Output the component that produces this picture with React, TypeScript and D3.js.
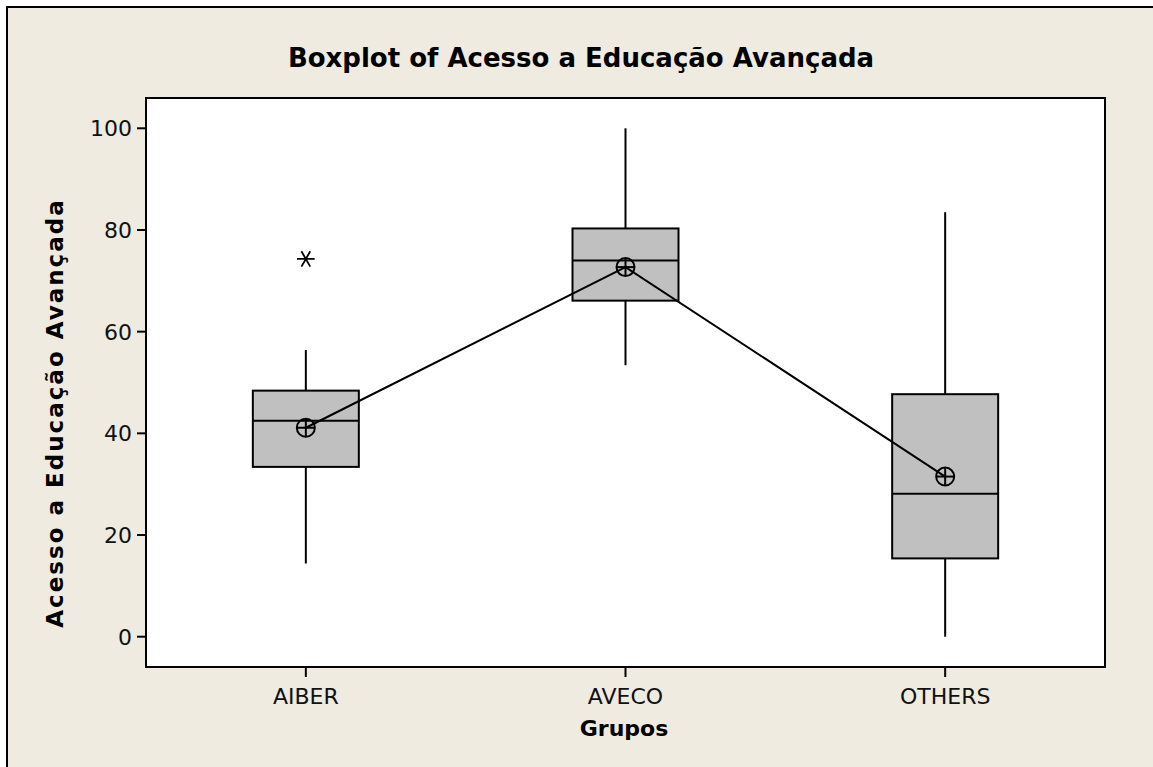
import React from "react";
import * as d3 from "d3";

const categories = ["AIBER", "AVECO", "OTHERS"];
const q1 = [33.4, 66.1, 15.4];
const medians = [42.5, 74.0, 28.1];
const q3 = [48.4, 80.3, 47.7];
const whiskerLow = [14.4, 53.4, 0];
const whiskerHigh = [56.4, 100, 83.5];
const means = [41.1, 72.7, 31.5];
const outlierGroups = ["AIBER"];
const outlierValues = [74.3];
const yTicks = [0, 20, 40, 60, 80, 100];

const W = 1153;
const H = 767;
const plot = { left: 146, top: 98, right: 1105, bottom: 667 };
const BG = "#EFEBE1";
const FONT = "'DejaVu Sans', Verdana, sans-serif";

export default function App() {
  const x = d3
    .scalePoint<string>()
    .domain(categories)
    .range([plot.left, plot.right])
    .padding(0.5);
  const y = d3.scaleLinear().domain([-5.96, 105.96]).range([plot.bottom, plot.top]);
  const boxHalf = 53;
  const meanLine = d3
    .line<number>()
    .x((_, i) => x(categories[i]) as number)
    .y((d) => y(d));
  const star = d3.symbol().type(d3.symbolAsterisk).size(220)();

  return (
    <svg
      width={W}
      height={H}
      style={{ position: "absolute", left: 0, top: 0, background: "#fff" }}
    >
      <rect x={7} y={7} width={W + 20} height={H + 20} fill={BG} stroke="#000" strokeWidth={2} />
      <rect
        x={plot.left}
        y={plot.top}
        width={plot.right - plot.left}
        height={plot.bottom - plot.top}
        fill="#fff"
        stroke="#000"
        strokeWidth={2}
      />
      <text
        x={581}
        y={67}
        textAnchor="middle"
        fontFamily={FONT}
        fontWeight="bold"
        fontSize={26}
        fill="#000"
      >
        Boxplot of Acesso a Educação Avançada
      </text>
      {/* y axis */}
      {yTicks.map((t) => (
        <g key={t}>
          <line x1={plot.left - 9} x2={plot.left} y1={y(t)} y2={y(t)} stroke="#000" strokeWidth={2} />
          <text
            x={plot.left - 14}
            y={y(t)}
            dy="0.36em"
            textAnchor="end"
            fontFamily={FONT}
            fontSize={22}
            fill="#111"
          >
            {t}
          </text>
        </g>
      ))}
      {/* x axis */}
      {categories.map((c) => (
        <g key={c}>
          <line x1={x(c)} x2={x(c)} y1={plot.bottom} y2={plot.bottom + 10} stroke="#000" strokeWidth={2} />
          <text
            x={x(c)}
            y={704}
            textAnchor="middle"
            fontFamily={FONT}
            fontSize={22}
            fill="#111"
          >
            {c}
          </text>
        </g>
      ))}
      <text
        x={624}
        y={736}
        textAnchor="middle"
        fontFamily={FONT}
        fontWeight="bold"
        fontSize={22}
        fill="#000"
      >
        Grupos
      </text>
      <text
        transform={`translate(63,413) rotate(-90)`}
        textAnchor="middle"
        fontFamily={FONT}
        fontWeight="bold"
        fontSize={23}
        letterSpacing={2}
        fill="#000"
      >
        Acesso a Educação Avançada
      </text>
      {/* boxes */}
      {categories.map((c, i) => {
        const cx = x(c) as number;
        return (
          <g key={c}>
            <line x1={cx} x2={cx} y1={y(whiskerHigh[i])} y2={y(q3[i])} stroke="#000" strokeWidth={2} />
            <line x1={cx} x2={cx} y1={y(q1[i])} y2={y(whiskerLow[i])} stroke="#000" strokeWidth={2} />
            <rect
              x={cx - boxHalf}
              y={y(q3[i])}
              width={boxHalf * 2}
              height={y(q1[i]) - y(q3[i])}
              fill="#C0C0C0"
              stroke="#000"
              strokeWidth={2}
            />
            <line
              x1={cx - boxHalf}
              x2={cx + boxHalf}
              y1={y(medians[i])}
              y2={y(medians[i])}
              stroke="#000"
              strokeWidth={2}
            />
          </g>
        );
      })}
      <path d={meanLine(means) || ""} fill="none" stroke="#000" strokeWidth={2} />
      {means.map((m, i) => {
        const cx = x(categories[i]) as number;
        const cy = y(m);
        const r = 9;
        return (
          <g key={i}>
            <circle cx={cx} cy={cy} r={r} fill="none" stroke="#000" strokeWidth={2} />
            <line x1={cx - r} x2={cx + r} y1={cy} y2={cy} stroke="#000" strokeWidth={2} />
            <line x1={cx} x2={cx} y1={cy - r} y2={cy + r} stroke="#000" strokeWidth={2} />
          </g>
        );
      })}
      {outlierValues.map((v, i) => (
        <path
          key={i}
          d={star || ""}
          transform={`translate(${x(outlierGroups[i])},${y(v)}) rotate(90)`}
          fill="none"
          stroke="#000"
          strokeWidth={1.8}
        />
      ))}
    </svg>
  );
}
